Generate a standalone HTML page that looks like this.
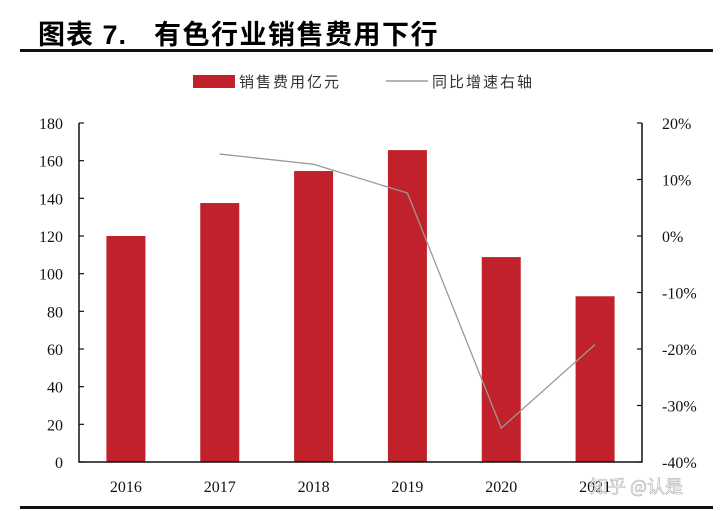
<!DOCTYPE html>
<html><head><meta charset="utf-8"><style>
body{margin:0;background:#fff;}
svg{display:block;font-family:"Liberation Serif","Noto Serif CJK SC",serif;}
</style></head><body>
<svg width="720" height="511" viewBox="0 0 720 511" id="chart">
<g font-size="27" font-weight="bold" font-family="'Liberation Sans','Noto Sans CJK SC',sans-serif">
<text x="38" y="44" letter-spacing="1">图表 7.</text>
<text x="154" y="44" letter-spacing="1.5">有色行业销售费用下行</text>
</g>
<rect x="20" y="49" width="693" height="3" fill="#111"/>
<rect x="20" y="506" width="693" height="3" fill="#111"/>
<g>
<rect x="193" y="75" width="42" height="13" fill="#c0212a"/>
<text x="239" y="87" font-size="15" fill="#333" font-family="'Noto Sans CJK SC',sans-serif" letter-spacing="2">销售费用亿元</text>
<line x1="386" y1="81" x2="428" y2="81" stroke="#888" stroke-width="1.2"/>
<text x="432" y="87" font-size="15" fill="#333" font-family="'Noto Sans CJK SC',sans-serif" letter-spacing="2">同比增速右轴</text>
</g>
<g id="plot"></g>
<text x="590" y="493" font-size="18" fill="#fff" stroke="#999" stroke-width="0.6" opacity="0.8" font-family="'Noto Sans CJK SC',sans-serif">知乎 @认是</text>
</svg>
<script>
const categories=["2016","2017","2018","2019","2020","2021"];
const salesValues=[120,137.5,154.5,165.6,108.8,88];
const growthValues=[null,14.5,12.7,7.6,-34,-19.2];
const leftTicks=[0,20,40,60,80,100,120,140,160,180];
const rightTicks=[-40,-30,-20,-10,0,10,20];
const NS="http://www.w3.org/2000/svg";
const g=document.getElementById('plot');
const X0=79,X1=642,Y0=462,Y1=123;
const yL=v=>Y0-(v/180)*(Y0-Y1);
const yR=v=>Y0-((v+40)/60)*(Y0-Y1);
const bw=(X1-X0)/categories.length;
const xC=i=>X0+bw*(i+0.5);
function mk(t,a){const e=document.createElementNS(NS,t);for(const k in a)e.setAttribute(k,a[k]);g.appendChild(e);return e;}
salesValues.forEach((v,i)=>{
 const r=mk('rect',{x:xC(i)-19.5,y:yL(v),width:39,height:Y0-yL(v),fill:'#c0212a'});
 
 
});
let pts=[];growthValues.forEach((v,i)=>{if(v!==null)pts.push(xC(i)+','+yR(v));});
const pl=mk('polyline',{points:pts.join(' '),fill:'none',stroke:'#999','stroke-width':1.3});


const ax=mk('path',{d:`M${X0},${Y1}V${Y0}H${X1}V${Y1}`,fill:'none',stroke:'#111','stroke-width':1.5});


leftTicks.forEach(v=>{
 mk('line',{x1:X0,x2:X0+5,y1:yL(v),y2:yL(v),stroke:'#111','stroke-width':1.2});
 const t=mk('text',{x:X0-16,y:yL(v)+6,'font-size':16,'text-anchor':'end',fill:'#111'});t.textContent=v;
 
 
});
rightTicks.forEach(v=>{
 mk('line',{x1:X1-5,x2:X1,y1:yR(v),y2:yR(v),stroke:'#111','stroke-width':1.2});
 const t=mk('text',{x:X1+20,y:yR(v)+6,'font-size':16,fill:'#111'});t.textContent=v+'%';
 
 
});
categories.forEach((c,i)=>{
 const t=mk('text',{x:xC(i),y:492,'font-size':16,'text-anchor':'middle',fill:'#111'});t.textContent=c;
 
 
});
</script>
</body></html>
